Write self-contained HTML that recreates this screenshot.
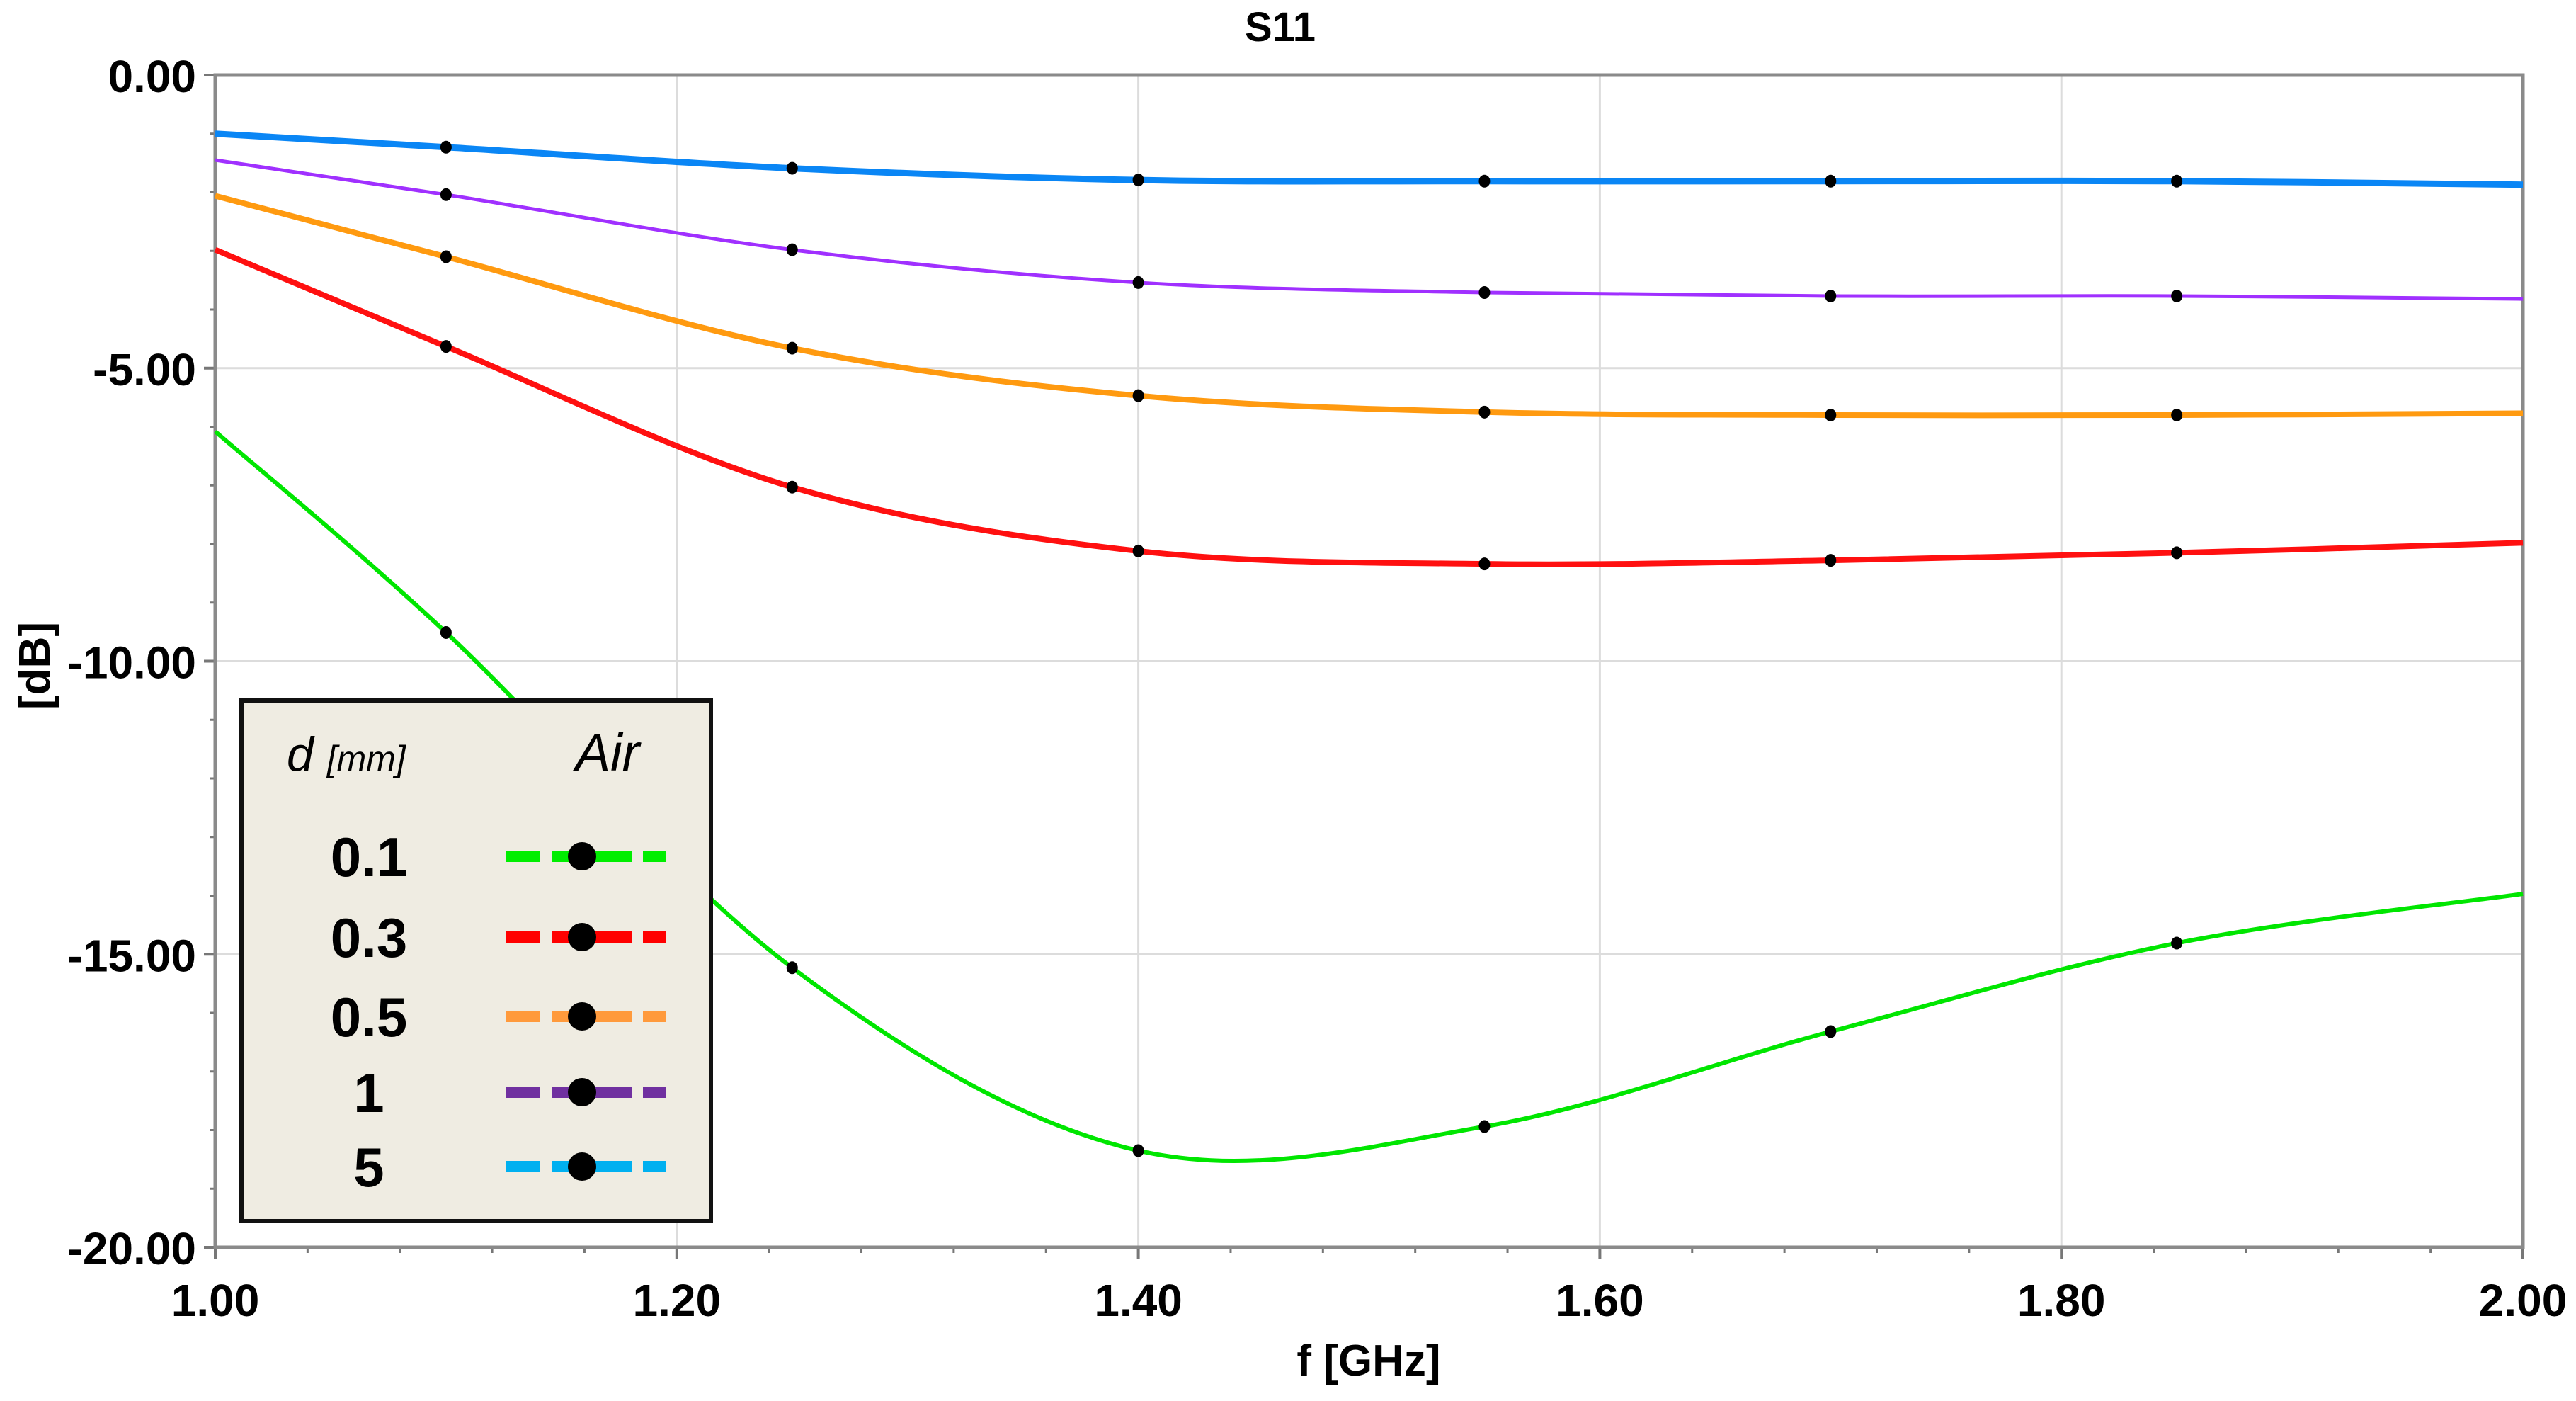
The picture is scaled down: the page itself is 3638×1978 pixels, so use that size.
<!DOCTYPE html>
<html><head><meta charset="utf-8"><style>
html,body{margin:0;padding:0;background:#fff;}
svg{display:block;font-family:"Liberation Sans",Arial,sans-serif;}
</style></head><body>
<svg id="chart" width="3638" height="1978" viewBox="0 0 3638 1978" xmlns="http://www.w3.org/2000/svg">
<rect x="0" y="0" width="3638" height="1978" fill="#fff"/>
<g id="grid"></g>
<g id="axes"></g>
<g id="series"></g>
<text x="1808" y="58" text-anchor="middle" font-size="58" font-weight="bold">S11</text>
<text x="1933" y="1942" text-anchor="middle" font-size="62" font-weight="bold">f [GHz]</text>
<text x="0" y="0" transform="translate(70,940) rotate(-90)" text-anchor="middle" font-size="62" font-weight="bold">[dB]</text>
<g id="legend">
<rect x="341" y="989" width="663" height="735" fill="#efece2" stroke="#111" stroke-width="6"/>
<text x="405" y="1088" font-size="68" font-style="italic">d <tspan font-size="50">[mm]</tspan></text>
<text x="858" y="1088" font-size="74" font-style="italic" text-anchor="middle">Air</text>
</g>
</svg>
<script>
const freqs = [1.0, 1.1, 1.25, 1.4, 1.55, 1.7, 1.85, 2.0];
const seriesBlue = [-1.0, -1.23, -1.59, -1.79, -1.81, -1.81, -1.81, -1.87];
const seriesPurple = [-1.45, -2.04, -2.98, -3.54, -3.71, -3.77, -3.77, -3.82];
const seriesOrange = [-2.06, -3.10, -4.66, -5.47, -5.75, -5.80, -5.80, -5.77];
const seriesRed = [-2.98, -4.63, -7.03, -8.12, -8.34, -8.28, -8.15, -7.98];
const seriesGreen = [-6.08, -9.51, -15.23, -18.35, -17.94, -16.32, -14.81, -13.97];
const xTicks = [1.0, 1.2, 1.4, 1.6, 1.8, 2.0];
const xTickLabels = ["1.00", "1.20", "1.40", "1.60", "1.80", "2.00"];
const yTicks = [0, -5, -10, -15, -20];
const yTickLabels = ["0.00", "-5.00", "-10.00", "-15.00", "-20.00"];
const legendLabels = ["0.1", "0.3", "0.5", "1", "5"];

const NS = "http://www.w3.org/2000/svg";
const L = 304, R = 3563, T = 106, B = 1761;
const xMin = 1.0, xMax = 2.0, yMin = -20, yMax = 0;
function sx(v){ return L + (v - xMin) / (xMax - xMin) * (R - L); }
function sy(v){ return T + (yMax - v) / (yMax - yMin) * (B - T); }
function mk(tag, attrs, parent){ const e = document.createElementNS(NS, tag); for (const k in attrs) e.setAttribute(k, attrs[k]); parent.appendChild(e); return e; }

const grid = document.getElementById('grid');
const axes = document.getElementById('axes');
const series = document.getElementById('series');

xTicks.forEach((t, i) => {
  if (i > 0 && i < xTicks.length - 1) {
    const g = mk('line', {x1: sx(t), x2: sx(t), y1: T, y2: B, stroke: '#dcdcdc', 'stroke-width': 3}, grid);
    
    
  }
  const lb = mk('text', {x: sx(t), y: 1858, 'text-anchor': 'middle', 'font-size': 64, 'font-weight': 'bold'}, axes);
  lb.textContent = xTickLabels[i];
  
  
  const tk = mk('line', {x1: sx(t), x2: sx(t), y1: B, y2: B + 16, stroke: '#777', 'stroke-width': 4}, axes);
  
  
});
for (let v = 1.0; v < 2.0001; v += 0.04) {
  const tk = mk('line', {x1: sx(v), x2: sx(v), y1: B, y2: B + 8, stroke: '#777', 'stroke-width': 3}, axes);
  
  
}
yTicks.forEach((t, i) => {
  if (i > 0 && i < yTicks.length - 1) {
    const g = mk('line', {x1: L, x2: R, y1: sy(t), y2: sy(t), stroke: '#dcdcdc', 'stroke-width': 3}, grid);
    
    
  }
  const lb = mk('text', {x: 277, y: sy(t) + 24, 'text-anchor': 'end', 'font-size': 64, 'font-weight': 'bold'}, axes);
  lb.textContent = yTickLabels[i];
  
  
  const tk = mk('line', {x1: L - 16, x2: L, y1: sy(t), y2: sy(t), stroke: '#777', 'stroke-width': 4}, axes);
  
  
});
for (let v = 0; v >= -20; v -= 1) {
  const tk = mk('line', {x1: L - 8, x2: L, y1: sy(v), y2: sy(v), stroke: '#777', 'stroke-width': 3}, axes);
  
  
}
const frame = mk('rect', {x: L, y: T, width: R - L, height: B - T, fill: 'none', stroke: '#8a8a8a', 'stroke-width': 5}, axes);



function pathFor(vals){
  const p = vals.map((v, i) => [sx(freqs[i]), sy(v)]);
  let d = 'M' + p[0][0] + ',' + p[0][1];
  for (let i = 0; i < p.length - 1; i++) {
    const p0 = p[Math.max(0, i - 1)], p1 = p[i], p2 = p[i + 1], p3 = p[Math.min(p.length - 1, i + 2)];
    const c1x = p1[0] + (p2[0] - p0[0]) / 6, c1y = p1[1] + (p2[1] - p0[1]) / 6;
    const c2x = p2[0] - (p3[0] - p1[0]) / 6, c2y = p2[1] - (p3[1] - p1[1]) / 6;
    d += ' C' + c1x + ',' + c1y + ' ' + c2x + ',' + c2y + ' ' + p2[0] + ',' + p2[1];
  }
  return d;
}
const defs = [
  {vals: seriesGreen, color: '#00e600', w: 6, name: 'series-0.1'},
  {vals: seriesRed, color: '#ff1010', w: 8, name: 'series-0.3'},
  {vals: seriesOrange, color: '#ff9a10', w: 8, name: 'series-0.5'},
  {vals: seriesPurple, color: '#a030ff', w: 5, name: 'series-1'},
  {vals: seriesBlue, color: '#0a86f5', w: 9, name: 'series-5'}
];
defs.forEach(s => {
  const g = mk('g', {}, series);
  
  
  const pth = mk('path', {d: pathFor(s.vals), fill: 'none', stroke: s.color, 'stroke-width': s.w}, g);
  
  
  for (let i = 1; i < freqs.length - 1; i++) {
    const c = mk('ellipse', {cx: sx(freqs[i]), cy: sy(s.vals[i]), rx: 8, ry: 9, fill: '#000'}, g);
    
    
  }
});

const legend = document.getElementById('legend');
const legendColors = ['#00ee00', '#ff0000', '#ff9a3c', '#7030a0', '#00b0f0'];
const rowY = [1209, 1323, 1435, 1542, 1647];
legendLabels.forEach((lab, i) => {
  const t = mk('text', {x: 521, y: rowY[i] + 28, 'text-anchor': 'middle', 'font-size': 78, 'font-weight': 'bold'}, legend);
  t.textContent = lab;
  
  
  const ln = mk('line', {x1: 715, x2: 940, y1: rowY[i], y2: rowY[i], stroke: legendColors[i], 'stroke-width': 16, 'stroke-dasharray': '48 16 113 16 40'}, legend);
  
  
  const dt = mk('circle', {cx: 822, cy: rowY[i], r: 20, fill: '#000'}, legend);
  
  
});
</script>
</body></html>
